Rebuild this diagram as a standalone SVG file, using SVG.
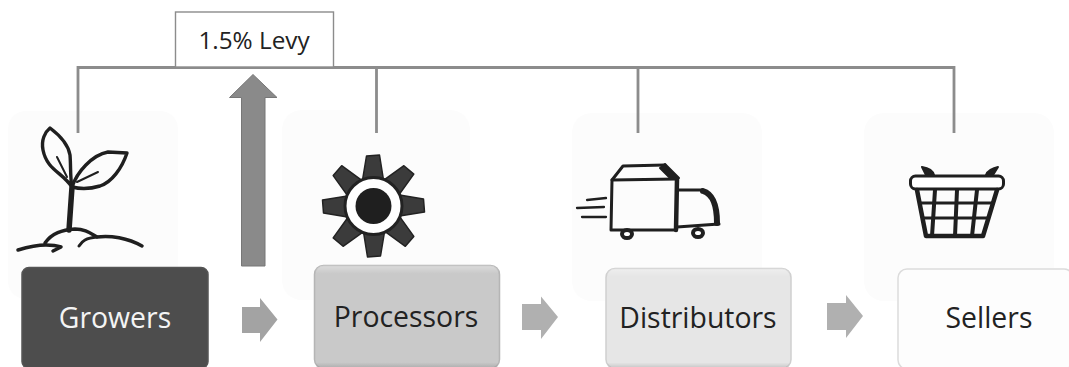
<svg xmlns="http://www.w3.org/2000/svg" width="1069" height="367" viewBox="0 0 1069 367">
<defs>
<style>
.panel{fill:#fcfcfc}
.link{fill:none;stroke:#8c8c8c;stroke-width:2.800}
.lbl{font-family:"Open Sans","Noto Sans","Liberation Sans",sans-serif;font-size:28.400px;text-anchor:middle;fill:#222}
.ink{fill:none;stroke:#1f1f1f;stroke-linecap:round;stroke-linejoin:round}
.tooth{fill:#3b3b3b;stroke:#222;stroke-width:1.500;stroke-linejoin:round}
</style>
<linearGradient id="sh" x1="0" y1="0" x2="0" y2="1"><stop offset="0" stop-color="#fff" stop-opacity=".35"/><stop offset=".08" stop-color="#fff" stop-opacity="0"/><stop offset=".94" stop-color="#000" stop-opacity="0"/><stop offset="1" stop-color="#000" stop-opacity=".15"/></linearGradient>
<polygon id="t" class="tooth" points="-11,-26 -7,-50 6,-51 10,-26"/>
</defs>
<rect width="1069" height="367" fill="#fff"/>
<g id="panels">
<rect class="panel" x="8" y="111" width="170" height="188" rx="18"/>
<rect class="panel" x="282" y="110" width="188" height="190" rx="20"/>
<rect class="panel" x="572" y="113" width="190" height="188" rx="20"/>
<rect class="panel" x="864" y="113" width="190" height="188" rx="20"/>
</g>
<g id="connectors">
<path class="link" d="M78 133V67.500H954V133M376.500 67.500V133M638 67.500V133"/>
<polygon points="253,74.500 277,97.500 265,97.500 265,266 241.500,266 241.500,97.500 229.500,97.500" fill="#8a8a8a" stroke="#777" stroke-width="1"/>
<polygon points="242,307 260,307 260,298 277.500,319.500 260,342 260,333 242,333" fill="#a3a3a3"/>
<polygon points="522,304 541,304 541,296.500 558,317 541,339 541,330 522,330" fill="#b0b0b0"/>
<polygon points="827,303 846,303 846,295 863,316 846,338 846,330 827,330" fill="#b0b0b0"/>
</g>
<g id="levy">
<rect x="175.500" y="12" width="158" height="55" fill="#fff" stroke="#8c8c8c" stroke-width="1.400"/>
<text class="lbl" x="254" y="49" style="font-size:24.300px">1.5% Levy</text>
</g>
<g id="growers">
<g class="ink">
<path stroke-width="3.400" d="M72 187C62 172 47 170 43 150C41 140 45 132 50 128C58 134 68 143 70 155C71 167 70 177 72 187Z"/>
<path stroke-width="3.400" d="M72 187C77 172 92 155 108 152L127 153C122 168 112 182 100 186C90 189 80 189 72 187Z"/>
<path stroke-width="2" d="M57 157L67 177M77 182L98 172"/>
<path stroke-width="5.500" d="M72 187L69 230"/>
<path stroke-width="3.500" d="M18 250C28 247 36 245 46 245C52 245 58 246 61 247L53 251"/>
<path stroke-width="3.500" d="M45 243C52 233 62 230 75 229C85 229 90 233 97 237C110 235 128 238 142 246"/>
<path stroke-width="3" d="M79 246C82 241 86 238 97 237"/>
</g>
<rect x="22" y="267.500" width="186" height="101" rx="7" fill="#4d4d4d" stroke="#555" stroke-width="1.500"/>
<text class="lbl" x="115" y="328" style="fill:#f4f4f4">Growers</text>
</g>
<g id="processors">
<g transform="translate(373.500 206)">
<use href="#t"/><use href="#t" transform="rotate(45)"/><use href="#t" transform="rotate(90)"/><use href="#t" transform="rotate(135)"/><use href="#t" transform="rotate(180)"/><use href="#t" transform="rotate(225)"/><use href="#t" transform="rotate(270)"/><use href="#t" transform="rotate(315)"/>
<circle r="28.500" fill="#fff" stroke="#222" stroke-width="3"/>
<circle r="18" fill="#1f1f1f"/>
</g>
<rect x="314.500" y="265.500" width="185" height="103" rx="9" fill="#c9c9c9" stroke="#b5b5b5" stroke-width="1.500"/>
<rect x="314.500" y="265.500" width="185" height="103" rx="9" fill="url(#sh)"/>
<text class="lbl" x="406" y="327">Processors</text>
</g>
<g id="distributors">
<g class="ink">
<path stroke-width="3" d="M612 180L677 179M612 180L611 230H676"/>
<path stroke-width="4.500" d="M677 179L676 230"/>
<path stroke-width="3" d="M612 180L623 166L665 165"/>
<path d="M665 164L679 178L671 179L660 168Z" fill="#1f1f1f" stroke-width="2"/>
<path stroke-width="3" d="M677 190H703"/>
<path stroke-width="6" d="M703 191C713 194 717 206 717 223"/>
<path stroke-width="3" d="M677 227L719 224"/>
<ellipse cx="627" cy="234" rx="5" ry="4" stroke-width="4" fill="#fff"/>
<ellipse cx="698" cy="233" rx="5" ry="4" stroke-width="4" fill="#fff"/>
<path stroke-width="2.300" d="M587 200L606 198M577 208L604 207M582 217L606 217"/>
</g>
<rect x="606" y="268.500" width="185" height="100" rx="9" fill="#e6e6e6" stroke="#cfcfcf" stroke-width="1.500"/>
<rect x="606" y="268.500" width="185" height="100" rx="9" fill="url(#sh)"/>
<text class="lbl" x="698" y="328">Distributors</text>
</g>
<g id="sellers">
<g class="ink">
<path d="M922 167C928 168 933 171 934 175L926 175Z" fill="#1f1f1f" stroke-width="2"/>
<path d="M998 167C993 168 987 171 986 175L993 175Z" fill="#1f1f1f" stroke-width="2"/>
<rect x="910.500" y="176" width="93" height="13" rx="5" stroke-width="3" fill="#fff"/>
<path stroke-width="4.500" d="M917 190L926 236H983L997 190"/>
<path stroke-width="4" d="M935 190L932 236M957 190L955 236M977 190L972 236"/>
<path stroke-width="2.800" d="M920 203H992M923 218H988"/>
</g>
<rect x="898" y="269" width="175" height="100" rx="9" fill="#fdfdfd" stroke="#dcdcdc" stroke-width="1.500"/>
<text class="lbl" x="989" y="328">Sellers</text>
</g>
</svg>
